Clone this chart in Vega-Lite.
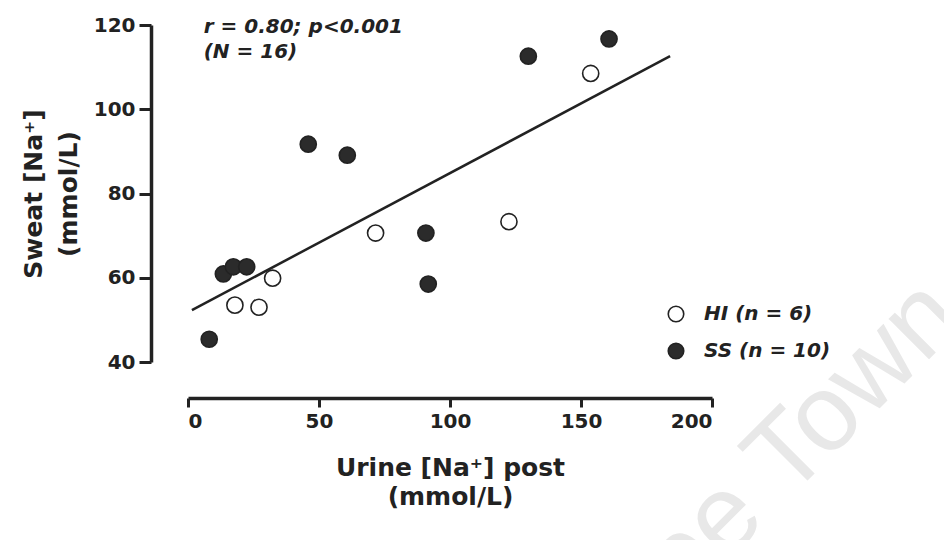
{
  "$schema": "https://vega.github.io/schema/vega-lite/v6.json",
  "width": 524,
  "height": 337,
  "autosize": "none",
  "padding": {"left": 188, "top": 25, "right": 232, "bottom": 178},
  "background": "white",
  "config": {
    "view": {"stroke": null},
    "font": "DejaVu Sans",
    "axis": {
      "domainColor": "#222",
      "tickColor": "#222",
      "labelColor": "#222",
      "titleColor": "#222",
      "grid": false,
      "labelFont": "DejaVu Sans",
      "titleFont": "DejaVu Sans"
    }
  },
  "datasets": {
    "points": [
      {"urine": 8.1, "sweat": 45.4, "group": "SS"},
      {"urine": 13.5, "sweat": 60.9, "group": "SS"},
      {"urine": 17.3, "sweat": 62.6, "group": "SS"},
      {"urine": 22.4, "sweat": 62.6, "group": "SS"},
      {"urine": 45.9, "sweat": 91.7, "group": "SS"},
      {"urine": 60.8, "sweat": 89.1, "group": "SS"},
      {"urine": 90.8, "sweat": 70.6, "group": "SS"},
      {"urine": 91.7, "sweat": 58.5, "group": "SS"},
      {"urine": 129.9, "sweat": 112.6, "group": "SS"},
      {"urine": 160.7, "sweat": 116.7, "group": "SS"},
      {"urine": 17.9, "sweat": 53.5, "group": "HI"},
      {"urine": 27.1, "sweat": 53.0, "group": "HI"},
      {"urine": 32.3, "sweat": 59.9, "group": "HI"},
      {"urine": 71.6, "sweat": 70.6, "group": "HI"},
      {"urine": 122.5, "sweat": 73.3, "group": "HI"},
      {"urine": 153.7, "sweat": 108.5, "group": "HI"}
    ],
    "fit": [
      {"urine": 1.5, "sweat": 52.3},
      {"urine": 184, "sweat": 112.6}
    ],
    "notes": [
      {"urine": 6, "sweat": 119.6, "label": "r = 0.80; p<0.001"},
      {"urine": 6, "sweat": 113.7, "label": "(N = 16)"}
    ],
    "watermark": [
      {"urine": 297, "sweat": 49.5, "label": "Cape Town"}
    ]
  },
  "layer": [
    {
      "data": {"name": "watermark"},
      "mark": {"type": "text", "align": "right", "baseline": "alphabetic", "angle": -45, "font": "Liberation Sans", "fontSize": 108, "color": "#e8e8e8"},
      "encoding": {
        "x": {"field": "urine", "type": "quantitative"},
        "y": {"field": "sweat", "type": "quantitative"},
        "text": {"field": "label"}
      }
    },
    {
      "data": {"name": "fit"},
      "mark": {"type": "line", "color": "#222", "strokeWidth": 2.5},
      "encoding": {
        "x": {
          "field": "urine", "type": "quantitative",
          "scale": {"domain": [0, 200], "nice": false, "zero": false},
          "axis": {
            "values": [0, 50, 100, 150, 200],
            "offset": 36,
            "domainWidth": 3.5,
            "tickWidth": 3,
            "tickSize": 9,
            "labelFontSize": 20,
            "labelFontWeight": "bold",
            "labelPadding": 4,
            "title": ["Urine [Na⁺] post", "(mmol/L)"],
            "titleFontSize": 25,
            "titleFontWeight": "bold",
            "titleLineHeight": 29,
            "titlePadding": 24
          }
        },
        "y": {
          "field": "sweat", "type": "quantitative",
          "scale": {"domain": [40, 120], "nice": false, "zero": false},
          "axis": {
            "values": [40, 60, 80, 100, 120],
            "offset": 37,
            "domainWidth": 3.5,
            "tickWidth": 3,
            "tickSize": 12,
            "labelFontSize": 20,
            "labelFontWeight": "bold",
            "labelPadding": 4,
            "title": ["Sweat [Na⁺]", "(mmol/L)"],
            "titleFontSize": 25,
            "titleFontWeight": "bold",
            "titleLineHeight": 35,
            "titlePadding": 12
          }
        }
      }
    },
    {
      "data": {"name": "points"},
      "mark": {"type": "point", "shape": "circle", "filled": false, "size": 260, "strokeWidth": 1.6, "opacity": 1},
      "encoding": {
        "x": {"field": "urine", "type": "quantitative"},
        "y": {"field": "sweat", "type": "quantitative"},
        "fill": {
          "field": "group", "type": "nominal",
          "scale": {"domain": ["HI", "SS"], "range": ["white", "#2b2b2b"]},
          "legend": {
            "title": null,
            "orient": "none",
            "legendX": 478,
            "legendY": 279,
            "labelExpr": "datum.value == 'HI' ? 'HI (n = 6)' : 'SS (n = 10)'",
            "labelFont": "DejaVu Sans",
            "labelFontSize": 20,
            "labelFontStyle": "italic",
            "labelFontWeight": "bold",
            "labelColor": "#222",
            "labelOffset": 18,
            "symbolSize": 240,
            "symbolStrokeColor": "#222",
            "symbolStrokeWidth": 1.6,
            "symbolType": "circle",
            "rowPadding": 15
          }
        },
        "stroke": {"value": "#222"}
      }
    },
    {
      "data": {"name": "notes"},
      "mark": {"type": "text", "align": "left", "baseline": "middle", "font": "DejaVu Sans", "fontSize": 20, "fontStyle": "italic", "fontWeight": "bold", "color": "#222"},
      "encoding": {
        "x": {"field": "urine", "type": "quantitative"},
        "y": {"field": "sweat", "type": "quantitative"},
        "text": {"field": "label"}
      }
    }
  ]
}
